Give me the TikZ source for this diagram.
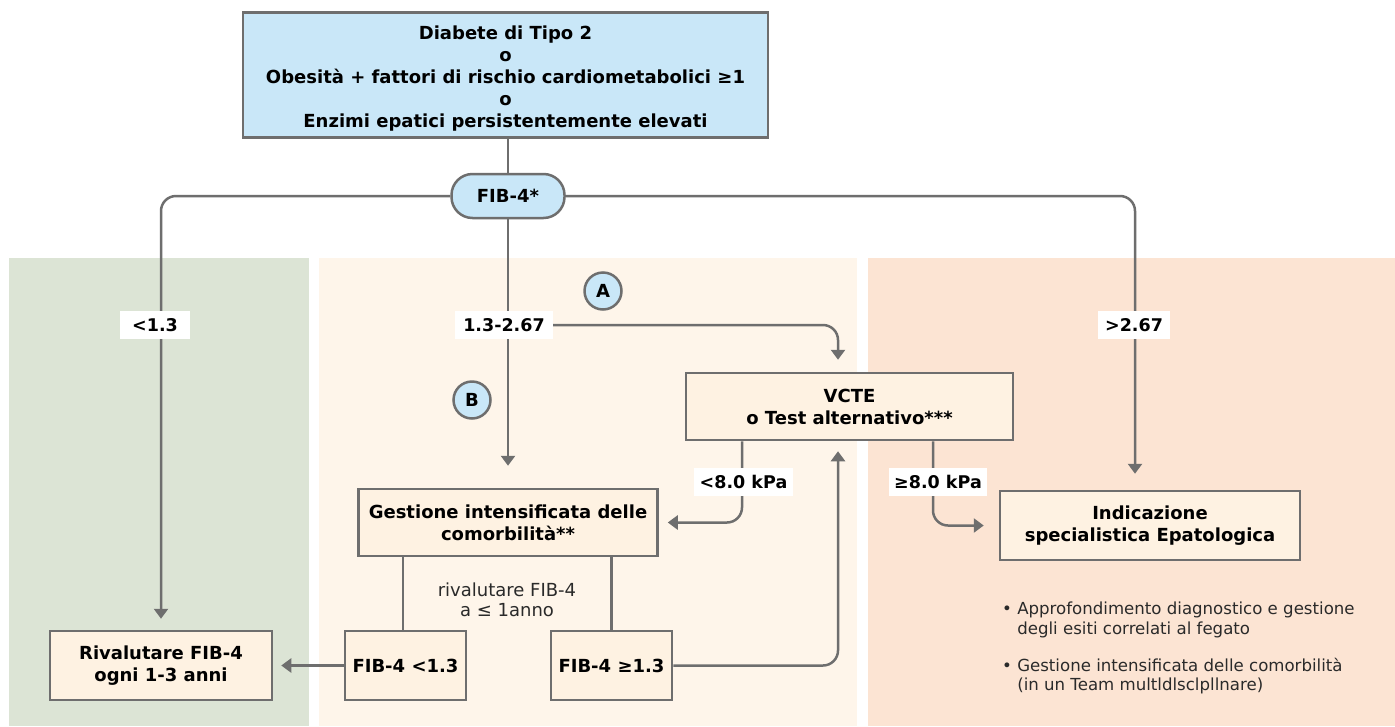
\documentclass[tikz,border=0pt]{standalone}
\usepackage{fontspec}
\setmainfont{DejaVu Sans}
\usetikzlibrary{arrows.meta}
\definecolor{linegray}{HTML}{6E6E6E}
\definecolor{pillblue}{HTML}{C9E7F8}
\definecolor{boxcream}{HTML}{FEF2E2}
\definecolor{greenbg}{HTML}{DCE4D5}
\definecolor{midbg}{HTML}{FEF5EA}
\definecolor{rightbg}{HTML}{FCE4D3}
\definecolor{txtgray}{HTML}{2A2A2A}

\begin{document}
\begin{tikzpicture}[x=1pt,y=-1pt,
  blockbox/.style={draw=linegray,line width=2.5pt,fill=boxcream,align=center,inner sep=0pt,
    font=\bfseries\fontsize{18}{22}\selectfont},
  pillbox/.style={draw=linegray,line width=2.5pt,fill=pillblue,rounded corners=21pt,inner sep=0pt,
    minimum width=113pt,minimum height=44pt,font=\bfseries\fontsize{18}{22}\selectfont},
  lblbox/.style={fill=white,inner sep=0pt,minimum height=28pt,font=\bfseries\fontsize{17.5}{22}\selectfont},
  letter/.style={circle,draw=linegray,line width=2.5pt,fill=pillblue,inner sep=0pt,minimum size=37pt,
    font=\bfseries\fontsize{18}{22}\selectfont},
  conn/.style={draw=linegray,line width=2.5pt},
  arr/.style={conn,-{Triangle[width=14pt,length=10pt]},rounded corners=15pt}]
  \useasboundingbox (0,0) rectangle (1395,726);
  \fill[white] (0,0) rectangle (1395,726);
  \fill[greenbg] (9,258) rectangle (309,726);
  \fill[midbg] (319,258) rectangle (857,726);
  \fill[rightbg] (868,258) rectangle (1395,726);

  \node[blockbox,fill=pillblue,minimum width=525pt,minimum height=125pt,
    label={[align=center,font=\bfseries\fontsize{18}{22}\selectfont,yshift=-4pt]center:{Diabete di Tipo 2\\o\\Obesità + fattori di rischio cardiometabolici ≥1\\o\\Enzimi epatici persistentemente elevati}}]
    (start) at (505.5,75) {};
  \node[pillbox] (fib) at (508,196) {FIB-4*};

  \node[blockbox,minimum width=327pt,minimum height=67pt] (vcte) at (849.5,406.5) {VCTE\\o Test alternativo***};
  \node[blockbox,minimum width=299pt,minimum height=67pt] (gest) at (508,522.5) {Gestione intensificata delle\\comorbilità**};
  \node[blockbox,minimum width=300pt,minimum height=69pt] (indic) at (1150,525.5) {Indicazione\\specialistica Epatologica};
  \node[blockbox,minimum width=222pt,minimum height=69pt] (rival) at (161,665.5) {Rivalutare FIB-4\\ogni 1-3 anni};
  \node[blockbox,minimum width=121pt,minimum height=69pt] (fiblow) at (405.5,665.5) {FIB-4 <1.3};
  \node[blockbox,minimum width=121pt,minimum height=69pt] (fibhigh) at (611.5,665.5) {FIB-4 ≥1.3};

  \draw[conn] (start.south -| fib) -- (fib);
  \draw[arr,shorten >=11pt] (fib.west) -| (rival.north);
  \draw[arr,shorten >=16pt] (fib.east) -| ([xshift=-15pt]indic.north);
  \draw[arr,shorten >=22pt] (fib.south) -- (gest.north);

  \node[lblbox,minimum width=70pt] (low) at (155,325) {<1.3};
  \node[lblbox,minimum width=98pt] (mid) at (504,325) {1.3-2.67};
  \node[lblbox,minimum width=72pt] (high) at (1134,325) {>2.67};

  \draw[arr,shorten >=12pt] (mid.east) -| ([xshift=-11.5pt]vcte.north);
  \draw[arr,shorten >=9pt] ([xshift=-107.5pt]vcte.south) |- (gest.east);
  \draw[arr,shorten >=15pt] ([xshift=83.5pt]vcte.south) |- (indic.west);
  \draw[arr,shorten >=10pt] (fibhigh.east) -| ([xshift=-11.5pt]vcte.south);
  \draw[conn] ([xshift=-2.5pt]fiblow.north) -- ([xshift=-2.5pt]fiblow.north |- gest.south);
  \draw[conn] (fibhigh.north) -- (fibhigh.north |- gest.south);
  \draw[arr,shorten >=8pt] (fiblow.west) -- (rival.east);

  \node[lblbox,minimum width=99pt] (kpalow) at (743.5,482) {<8.0 kPa};
  \node[lblbox,minimum width=98pt] (kpahigh) at (938,482) {≥8.0 kPa};

  \node[letter] (la) at (603,291) {A};
  \node[letter] (lb) at (472,400) {B};

  \node[align=center,text=txtgray,font=\fontsize{18}{19.5}\selectfont] (reval) at (507,600) {rivalutare FIB-4\\a ≤ 1anno};
  \node[anchor=north west,align=left,text=txtgray,font=\fontsize{16.6}{19.5}\selectfont,inner sep=0pt] (bulla) at (1002,602)
    {• Approfondimento diagnostico e gestione\\\hphantom{• }degli esiti correlati al fegato};
  \node[anchor=north west,align=left,text=txtgray,font=\fontsize{16.6}{19.5}\selectfont,inner sep=0pt] (bullb) at (1002,658)
    {• Gestione intensificata delle comorbilità\\\hphantom{• }(in un Team multldlsclpllnare)};
\end{tikzpicture}
\end{document}
